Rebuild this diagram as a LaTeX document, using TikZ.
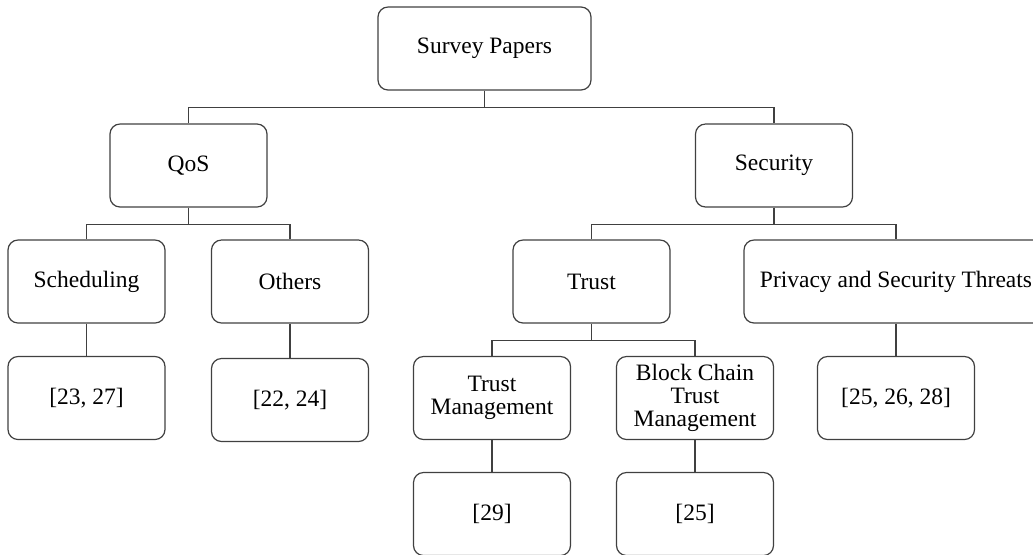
\documentclass[tikz,border=0pt]{standalone}
\usepackage{fontspec}
\setmainfont{Liberation Serif}
\usetikzlibrary{positioning}

\begin{document}
\begin{tikzpicture}[node distance=58.25pt, on grid, auto]
        \tikzset{
            box/.style={draw=black!75, line width=0.6pt, rounded corners=5pt,
                minimum width=78.5pt, minimum height=41.5pt, inner sep=2pt,
                align=center, font=\fontsize{11.75}{11.5}\selectfont},
            link/.style={draw=black!75, line width=0.6pt}
        }
        \useasboundingbox (0pt,0pt) rectangle (516.5pt,-277pt);

        % Niveles superiores
        \node[box, minimum width=106.5pt] (survey) at (242.25pt,-24.25pt) {Survey Papers};
        \node[box] (qos) [below left=58.5pt and 148pt of survey] {QoS};
        \node[box] (security) [below right=58.5pt and 144.75pt of survey] {Security};

        % Temas
        \node[box] (sched) [below left=58pt and 51pt of qos] {Scheduling};
        \node[box] (others) [below right=58pt and 50.75pt of qos] {Others};
        \node[box] (trust) [below left=58pt and 91.25pt of security] {Trust};
        \node[box, minimum width=152pt] (privacy) [below right=58pt and 61pt of security] {Privacy and Security Threats};

        % Subtemas y referencias
        \node[box] (r2327) [below=of sched] {[23, 27]};
        \node[box] (r2224) [below=59.25pt of others] {[22, 24]};
        \node[box] (tm) [below left=58.25pt and 49.75pt of trust] {Trust\\Management};
        \node[box] (bc) [below right=58.25pt and 51.75pt of trust] {Block Chain\\Trust\\Management};
        \node[box] (r252628) [below=of privacy] {[25, 26, 28]};
        \node[box] (r29) [below=58pt of tm] {[29]};
        \node[box] (r25) [below=58pt of bc] {[25]};

        % Conexiones
        \path[link]
            (survey.south) -- ++(0,-8.5pt) -| (qos.north)
            (survey.south) -- ++(0,-8.5pt) -| (security.north)
            (qos.south) -- ++(0,-8.25pt) -| (sched.north)
            (qos.south) -- ++(0,-8.25pt) -| (others.north)
            (security.south) -- ++(0,-8.25pt) -| (trust.north)
            (security.south) -- ++(0,-8.25pt) -| (privacy.north)
            (trust.south) -- ++(0,-8.5pt) -| (tm.north)
            (trust.south) -- ++(0,-8.5pt) -| (bc.north)
            (sched) -- (r2327)
            (others) -- (r2224)
            (privacy) -- (r252628)
            (tm) -- (r29)
            (bc) -- (r25);
    \end{tikzpicture}
\end{document}
